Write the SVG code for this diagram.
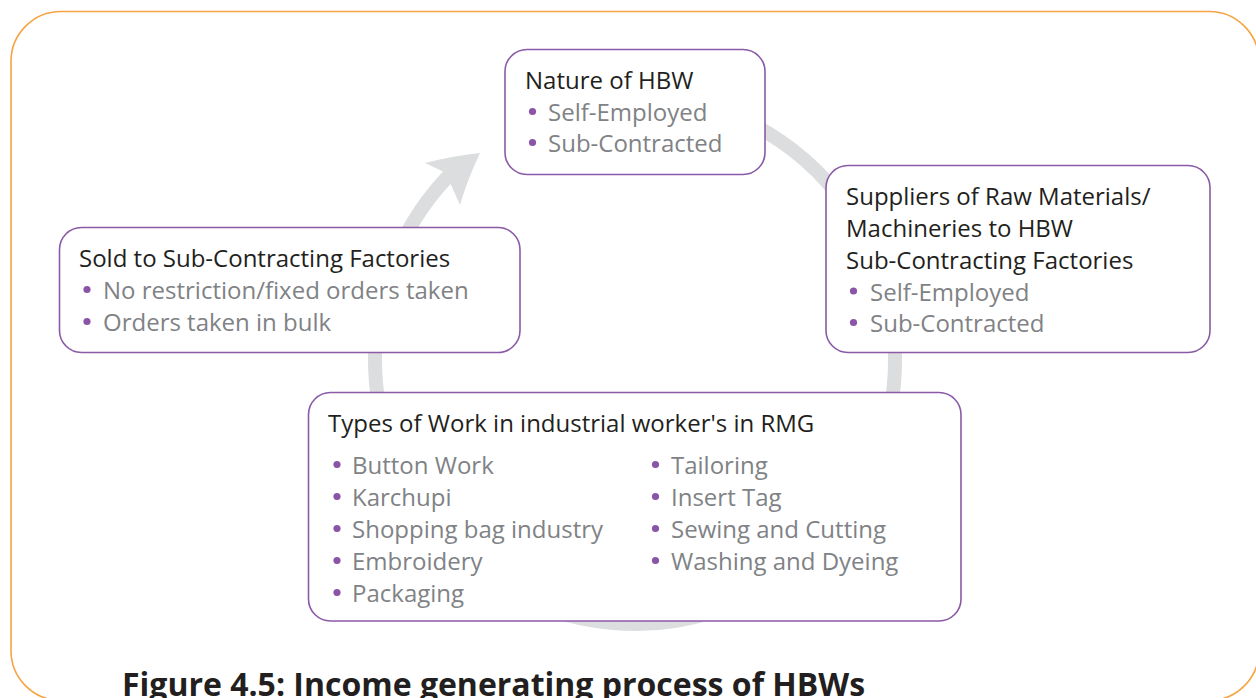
<svg xmlns="http://www.w3.org/2000/svg" width="1256" height="698" viewBox="0 0 1256 698">
  <style>
    .frame { fill: none; stroke: #f6a443; stroke-width: 1.6; }
    .box { fill: #ffffff; stroke: #8a5aa6; stroke-width: 1.6; }
    .band { fill: none; stroke: #dcddde; stroke-width: 14; }
    .head { fill: #dcddde; }
    .title { font-family: "Open Sans", "Noto Sans", sans-serif; font-size: 24px; fill: #231f20; }
    .item { font-family: "Open Sans", "Noto Sans", sans-serif; font-size: 24px; fill: #808285; }
    .dot { fill: #8a55a6; }
    .caption { font-family: "Open Sans", "Noto Sans", sans-serif; font-size: 32px; font-weight: bold; fill: #231f20; }
  </style>

  <rect width="1256" height="698" fill="#ffffff"/>

  <!-- outer frame; its right and bottom sides run just past the page edge -->
  <rect class="frame" x="11" y="11.5" width="1248" height="689" rx="50" ry="50"/>

  <!-- cycle connector: grey ring ending in an arrowhead -->
  <g id="connectors">
    <path class="band" d="M680.1,100 A260,264 0 1 1 454.4,170.1"/>
    <path class="head" d="M480,153 Q452,156 425,163 L444,172 L452,187 L460,205 Q468,178 480,153 Z"/>
  </g>

  <g id="node-nature">
    <rect class="box" x="505" y="49.5" width="260" height="125" rx="22" ry="22"/>
    <text class="title" x="525" y="89">Nature of HBW</text>
    <circle class="dot" cx="532.5" cy="111.5" r="3.6"/>
    <text class="item" x="548" y="121">Self-Employed</text>
    <circle class="dot" cx="532.5" cy="142.5" r="3.6"/>
    <text class="item" x="548" y="152">Sub-Contracted</text>
  </g>

  <g id="node-suppliers">
    <rect class="box" x="826" y="165.5" width="384" height="187" rx="22" ry="22"/>
    <text class="title" x="846" y="204.5">Suppliers of Raw Materials/</text>
    <text class="title" x="846" y="236.5">Machineries to HBW</text>
    <text class="title" x="846" y="268.5">Sub-Contracting Factories</text>
    <circle class="dot" cx="853.5" cy="291" r="3.6"/>
    <text class="item" x="870" y="300.5">Self-Employed</text>
    <circle class="dot" cx="853.5" cy="322.5" r="3.6"/>
    <text class="item" x="870" y="332">Sub-Contracted</text>
  </g>

  <g id="node-sold">
    <rect class="box" x="59.5" y="227.5" width="460.5" height="125" rx="22" ry="22"/>
    <text class="title" x="79" y="267">Sold to Sub-Contracting Factories</text>
    <circle class="dot" cx="87" cy="289.5" r="3.6"/>
    <text class="item" x="103" y="299">No restriction/fixed orders taken</text>
    <circle class="dot" cx="87" cy="321.5" r="3.6"/>
    <text class="item" x="103" y="331">Orders taken in bulk</text>
  </g>

  <g id="node-types">
    <rect class="box" x="308.5" y="392.5" width="652.5" height="228.5" rx="22" ry="22"/>
    <text class="title" x="328" y="432">Types of Work in industrial worker's in RMG</text>
    <circle class="dot" cx="337" cy="464.5" r="3.6"/>
    <text class="item" x="352" y="474">Button Work</text>
    <circle class="dot" cx="337" cy="496.5" r="3.6"/>
    <text class="item" x="352" y="506">Karchupi</text>
    <circle class="dot" cx="337" cy="528.5" r="3.6"/>
    <text class="item" x="352" y="538">Shopping bag industry</text>
    <circle class="dot" cx="337" cy="560.5" r="3.6"/>
    <text class="item" x="352" y="570">Embroidery</text>
    <circle class="dot" cx="337" cy="592.5" r="3.6"/>
    <text class="item" x="352" y="602">Packaging</text>
    <circle class="dot" cx="655.5" cy="464.5" r="3.6"/>
    <text class="item" x="671" y="474">Tailoring</text>
    <circle class="dot" cx="655.5" cy="496.5" r="3.6"/>
    <text class="item" x="671" y="506">Insert Tag</text>
    <circle class="dot" cx="655.5" cy="528.5" r="3.6"/>
    <text class="item" x="671" y="538">Sewing and Cutting</text>
    <circle class="dot" cx="655.5" cy="560.5" r="3.6"/>
    <text class="item" x="671" y="570">Washing and Dyeing</text>
  </g>

  <text class="caption" x="122" y="696">Figure 4.5: Income generating process of HBWs</text>
</svg>
